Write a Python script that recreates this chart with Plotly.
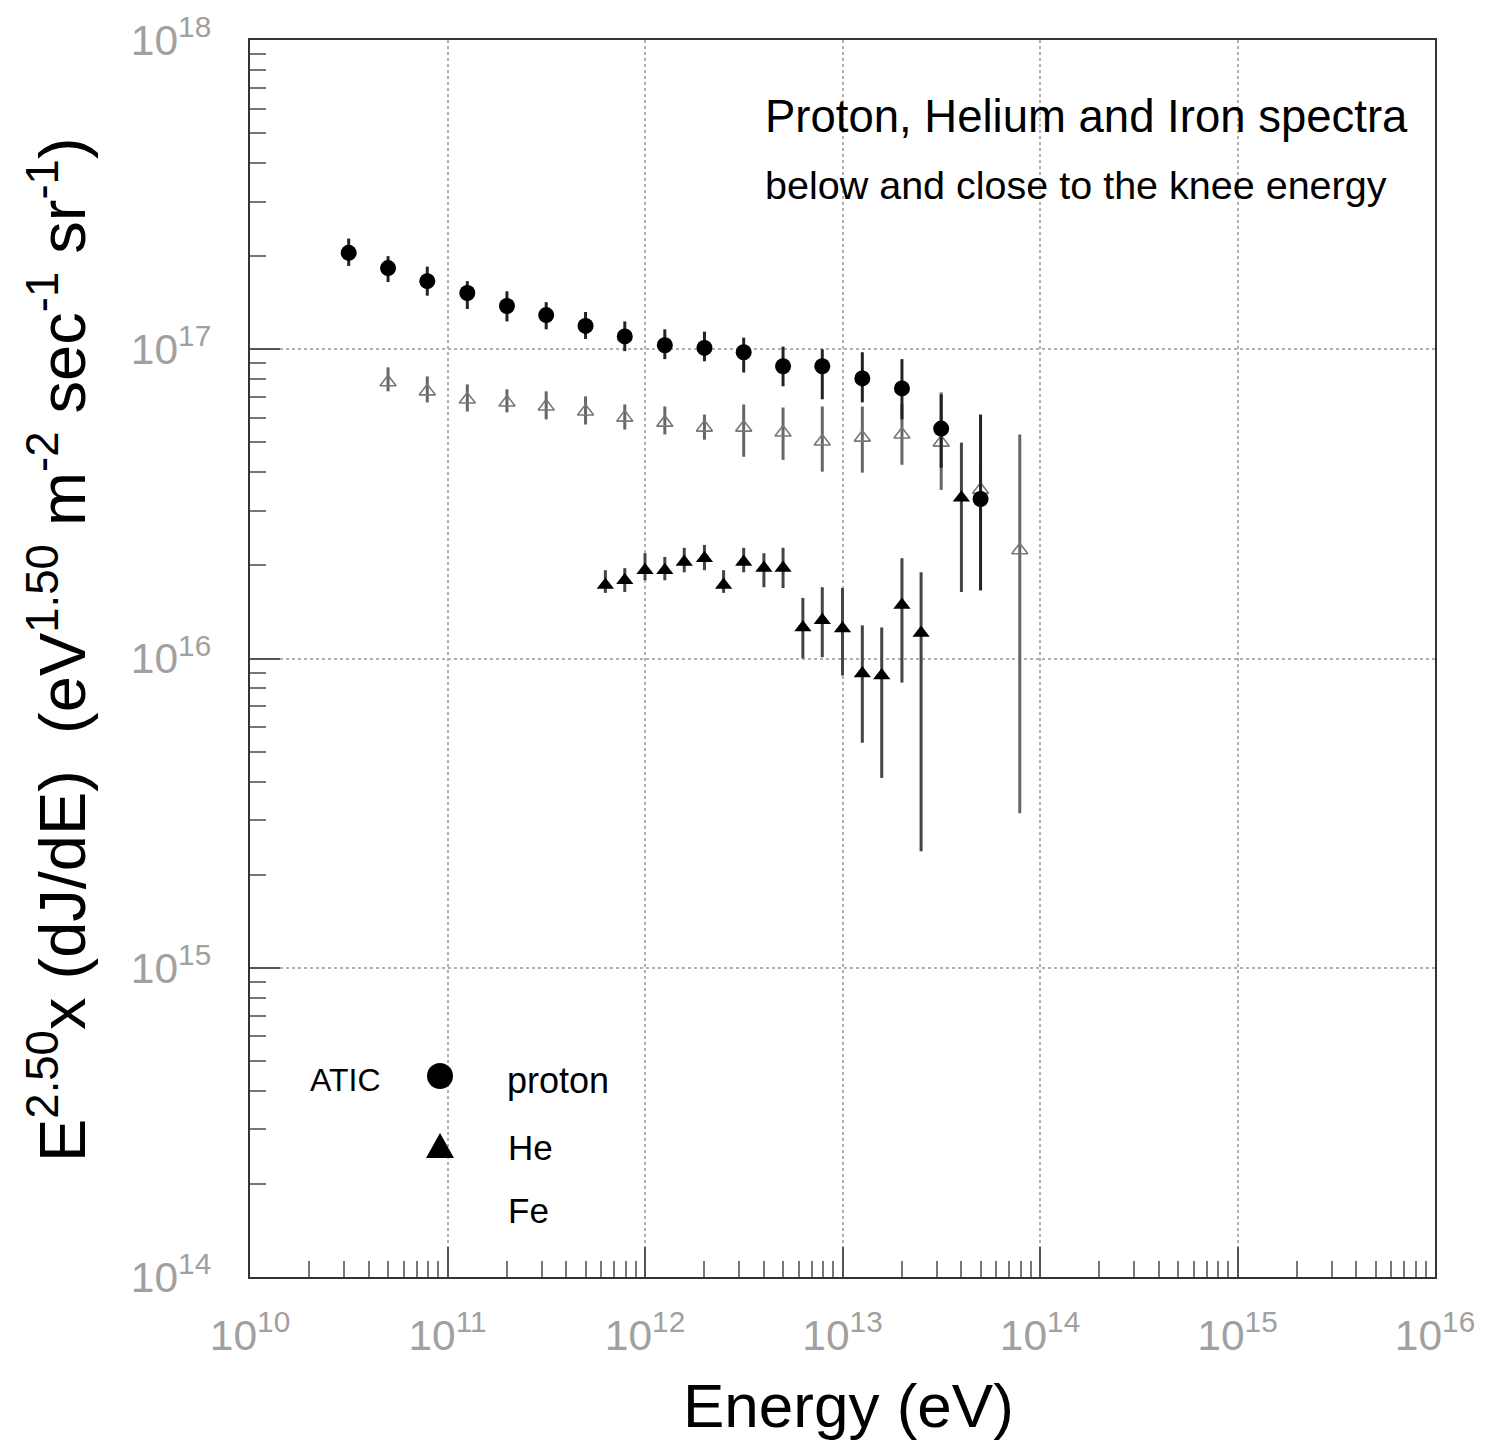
import plotly.graph_objects as go

# ---------------- data ----------------
proton_E = [3.16e10, 5.0e10, 7.9e10, 1.26e11, 2.0e11, 3.16e11, 5.0e11, 7.9e11, 1.26e12,
            2.0e12, 3.16e12, 5.0e12, 7.9e12, 1.26e13, 2.0e13, 3.16e13, 5.0e13]
proton_F = [2.05e17, 1.83e17, 1.66e17, 1.52e17, 1.38e17, 1.29e17, 1.19e17, 1.10e17, 1.03e17,
            1.01e17, 9.78e16, 8.81e16, 8.81e16, 8.05e16, 7.47e16, 5.54e16, 3.28e16]
proton_hi = [2.28e17, 2.00e17, 1.85e17, 1.66e17, 1.54e17, 1.42e17, 1.32e17, 1.23e17, 1.16e17,
             1.14e17, 1.09e17, 1.02e17, 1.00e17, 9.78e16, 9.29e16, 7.14e16, 6.15e16]
proton_lo = [1.86e17, 1.65e17, 1.49e17, 1.35e17, 1.23e17, 1.16e17, 1.08e17, 9.86e16, 9.29e16,
             9.14e16, 8.41e16, 7.59e16, 6.89e16, 6.73e16, 5.93e16, 4.14e16, 1.66e16]

open_E = [5.0e10, 7.9e10, 1.26e11, 2.0e11, 3.16e11, 5.0e11, 7.9e11, 1.26e12, 2.0e12,
          3.16e12, 5.0e12, 7.9e12, 1.26e13, 2.0e13, 3.16e13, 5.0e13, 7.9e13]
open_F = [7.82e16, 7.31e16, 6.88e16, 6.73e16, 6.53e16, 6.29e16, 6.01e16, 5.79e16, 5.58e16,
          5.58e16, 5.38e16, 5.03e16, 5.18e16, 5.30e16, 4.99e16, 3.51e16, 2.24e16]
open_hi = [8.74e16, 8.17e16, 7.70e16, 7.42e16, 7.31e16, 7.04e16, 6.63e16, 6.53e16, 6.15e16,
           6.63e16, 6.48e16, 6.53e16, 6.53e16, 6.63e16, 7.25e16, 4.23e16, 5.30e16]
open_lo = [7.31e16, 6.73e16, 6.29e16, 6.25e16, 5.93e16, 5.71e16, 5.50e16, 5.30e16, 5.10e16,
           4.49e16, 4.39e16, 4.02e16, 3.99e16, 4.23e16, 3.51e16, 2.91e16, 3.16e15]

filled_E = [6.3e11, 7.9e11, 1.0e12, 1.26e12, 1.58e12, 2.0e12, 2.5e12, 3.16e12, 4.0e12,
            5.0e12, 6.3e12, 7.9e12, 1.0e13, 1.26e13, 1.58e13, 2.0e13, 2.5e13, 4.0e13]
filled_F = [1.73e16, 1.79e16, 1.93e16, 1.93e16, 2.05e16, 2.11e16, 1.73e16, 2.05e16, 1.96e16,
            1.96e16, 1.26e16, 1.33e16, 1.25e16, 8.94e15, 8.81e15, 1.49e16, 1.21e16, 3.31e16]
filled_hi = [1.93e16, 1.96e16, 2.19e16, 2.13e16, 2.28e16, 2.33e16, 1.93e16, 2.28e16, 2.19e16,
             2.28e16, 1.57e16, 1.70e16, 1.69e16, 1.28e16, 1.26e16, 2.11e16, 1.90e16, 4.99e16]
filled_lo = [1.63e16, 1.64e16, 1.79e16, 1.79e16, 1.90e16, 1.93e16, 1.63e16, 1.90e16, 1.70e16,
             1.69e16, 1.00e16, 1.01e16, 8.81e15, 5.34e15, 4.11e15, 8.36e15, 2.38e15, 1.64e16]

title_1 = "Proton, Helium and Iron spectra"
title_2 = "below and close to the knee energy"
x_title = "Energy (eV)"
y_title = "E<sup>2.50</sup>x (dJ/dE)  (eV<sup>1.50</sup> m<sup>-2</sup> sec<sup>-1</sup> sr<sup>-1</sup>)"
legend_head = "ATIC"
legend_names = ["proton", "He", "Fe"]

FONT = "Liberation Sans, Arial, Helvetica, sans-serif"


def err(vals, hi, lo):
    return ([h - v for v, h in zip(vals, hi)], [v - l for v, l in zip(vals, lo)])


fig = go.Figure()

ep, em = err(open_F, open_hi, open_lo)
fig.add_trace(go.Scatter(
    x=open_E, y=open_F, mode="markers",
    marker=dict(symbol="triangle-up-open", size=14, color="#777777", line=dict(width=1.6, color="#777777")),
    error_y=dict(type="data", symmetric=False, array=ep, arrayminus=em, width=0,
                 thickness=3, color="#666666"),
    showlegend=False))

ep, em = err(filled_F, filled_hi, filled_lo)
fig.add_trace(go.Scatter(
    x=filled_E, y=filled_F, mode="markers",
    marker=dict(symbol="triangle-up", size=15, color="black"),
    error_y=dict(type="data", symmetric=False, array=ep, arrayminus=em, width=0,
                 thickness=3, color="#444444"),
    showlegend=False))

ep, em = err(proton_F, proton_hi, proton_lo)
fig.add_trace(go.Scatter(
    x=proton_E, y=proton_F, mode="markers",
    marker=dict(symbol="circle", size=16, color="black"),
    error_y=dict(type="data", symmetric=False, array=ep, arrayminus=em, width=0,
                 thickness=3, color="#222222"),
    showlegend=False))

# page has an 8px body margin; target plot area on page: x 250..1435, y 40..1277
OFF = 8
W, H = 1493 - OFF, 1447 - OFF
L, R, T, B = 250 - OFF, 58, 40 - OFF, 170
PW, PH = W - L - R, H - T - B


def px(xp):  # page pixel -> paper
    return (xp - OFF - L) / PW


def py(yp):
    return (H - B - (yp - OFF)) / PH


axis_common = dict(
    type="log", showline=True, mirror=True, linecolor="#333333", linewidth=2,
    ticks="inside", ticklen=30, tickwidth=1.5, tickcolor="#555555",
    showgrid=True, gridcolor="#b0b0b0", griddash="dot", gridwidth=1.5,
    dtick=1, exponentformat="power", zeroline=False, automargin=False,
    tickfont=dict(family=FONT, size=34, color="#a0a0a0"),
    minor=dict(ticks="inside", ticklen=16, tickwidth=1.5, tickcolor="#777777",
               dtick="D1", showgrid=False),
)

fig.update_xaxes(range=[10, 16], ticklabelstandoff=22, **axis_common)
fig.update_yaxes(range=[14, 18], ticklabelstandoff=30, **axis_common)

annotations = [
    dict(text=title_1, x=px(763), y=py(116), xanchor="left", yanchor="middle",
         font=dict(family=FONT, size=45.5, color="black")),
    dict(text=title_2, x=px(763), y=py(185), xanchor="left", yanchor="middle",
         font=dict(family=FONT, size=39.5, color="black")),
    dict(text=x_title, x=px(848), y=py(1405), xanchor="center", yanchor="middle",
         font=dict(family=FONT, size=62, color="black")),
    dict(text=y_title, x=px(58), y=py(650), xanchor="center", yanchor="middle",
         textangle=-90, font=dict(family=FONT, size=65, color="black")),
    dict(text=legend_head, x=px(345), y=py(1080), xanchor="center", yanchor="middle",
         font=dict(family=FONT, size=32, color="black")),
    dict(text=legend_names[0], x=px(505), y=py(1080), xanchor="left", yanchor="middle",
         font=dict(family=FONT, size=36, color="black")),
    dict(text=legend_names[1], x=px(506), y=py(1147), xanchor="left", yanchor="middle",
         font=dict(family=FONT, size=35, color="black")),
    dict(text=legend_names[2], x=px(506), y=py(1210), xanchor="left", yanchor="middle",
         font=dict(family=FONT, size=35, color="black")),
]
for a in annotations:
    a.update(xref="paper", yref="paper", showarrow=False)

shapes = [
    dict(type="circle", xref="paper", yref="paper", xsizemode="pixel", ysizemode="pixel",
         xanchor=px(440), yanchor=py(1076), x0=-13, x1=13, y0=-13, y1=13,
         fillcolor="black", line=dict(width=0)),
    dict(type="path", xref="paper", yref="paper", xsizemode="pixel", ysizemode="pixel",
         xanchor=px(440), yanchor=py(1146), path="M -14,-12 L 14,-12 L 0,13 Z",
         fillcolor="black", line=dict(width=0)),
]

fig.update_layout(
    width=W, height=H, margin=dict(l=L, r=R, t=T, b=B, autoexpand=False),
    plot_bgcolor="white", paper_bgcolor="white",
    font=dict(family=FONT),
    annotations=annotations, shapes=shapes, showlegend=False,
)

fig.write_html("out.html")
